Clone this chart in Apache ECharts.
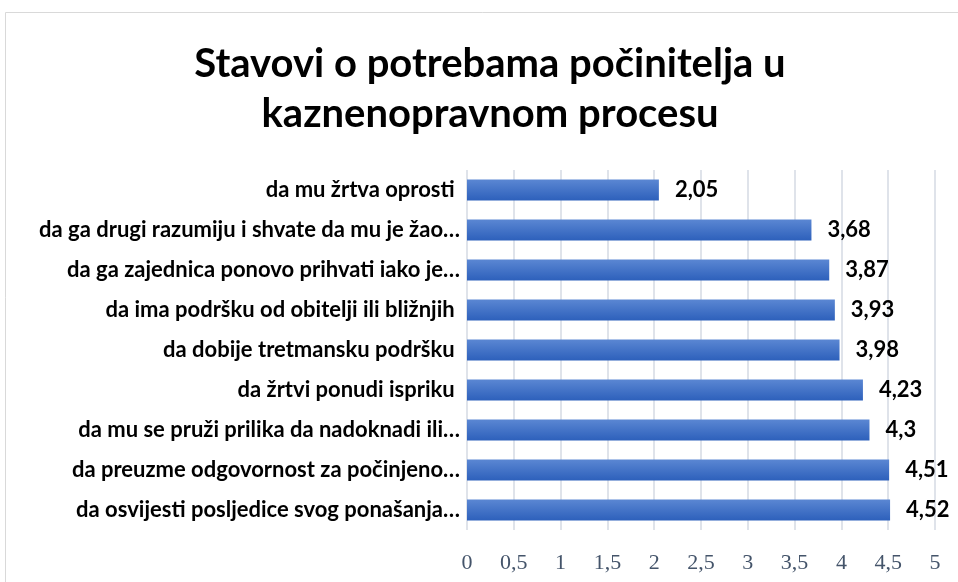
<!DOCTYPE html>
<html>
<head>
<meta charset="utf-8">
<script src="https://cdn.jsdelivr.net/npm/echarts@6/dist/echarts.min.js"></script>
<style>
html, body { margin: 0; padding: 0; background: #fff; }
#main { width: 958px; height: 582px; }
</style>
</head>
<body>
<div id="main"></div>
<script>
// kategorije odozgo prema dolje
var categories = [
	'da mu žrtva oprosti ',
	'da ga drugi razumiju i shvate da mu je žao…',
	'da ga zajednica ponovo prihvati iako je…',
	'da ima podršku od obitelji ili bližnjih ',
	'da dobije tretmansku podršku ',
	'da žrtvi ponudi ispriku ',
	'da mu se pruži prilika da nadoknadi ili…',
	'da preuzme odgovornost za počinjeno…',
	'da osvijesti posljedice svog ponašanja…'
];
var values = [2.05, 3.68, 3.87, 3.93, 3.98, 4.23, 4.3, 4.51, 4.52];
var tickLabels = ['0', '0,5', '1', '1,5', '2', '2,5', '3', '3,5', '4', '4,5', '5'];

var myChart = echarts.init(document.getElementById('main'));

var option = {
	backgroundColor: '#fff',
	animation: false,
	title: {
		text: 'Stavovi o potrebama počinitelja u\nkaznenopravnom procesu',
		left: 485,
		top: 34,
		textAlign: 'center',
		textStyle: {
			fontFamily: 'Lato',
			fontWeight: 'bold',
			fontSize: 40,
			lineHeight: 50,
			color: '#000'
		}
	},
	graphic: [
		{
			type: 'rect',
			shape: { x: 5.5, y: 12.5, width: 1000, height: 1000 },
			style: { fill: 'none', stroke: '#d9d9d9', lineWidth: 1 },
			silent: true
		}
	],
	grid: {
		left: 467,
		right: 23,
		top: 170,
		bottom: 52,
		containLabel: false
	},
	xAxis: {
		type: 'value',
		min: 0,
		max: 5,
		interval: 0.5,
		axisLine: { show: false },
		axisTick: { show: false },
		splitLine: { show: true, lineStyle: { color: '#dfe3ea', width: 2 } },
		axisLabel: {
			margin: 22,
			fontFamily: 'Liberation Serif',
			fontSize: 22,
			color: '#44546a',
			formatter: function (v) {
				return tickLabels[Math.round(v * 2)];
			}
		}
	},
	yAxis: {
		type: 'category',
		inverse: true,
		data: categories,
		axisLine: { show: false },
		axisTick: { show: false },
		axisLabel: {
			margin: 7,
			fontFamily: 'Lato',
			fontWeight: 'bold',
			fontSize: 22,
			color: '#000'
		}
	},
	series: [
		{
			name: 'Stavovi',
			type: 'bar',
			data: values,
			barCategoryGap: '47%',
			itemStyle: {
				color: new echarts.graphic.LinearGradient(0, 0, 0, 1, [
					{ offset: 0, color: '#5b87d3' },
					{ offset: 1, color: '#2d60bb' }
				])
			},
			label: {
				show: true,
				position: 'right',
				distance: 16,
				fontFamily: 'Lato',
				fontWeight: 'bold',
				fontSize: 22,
				color: '#000',
				formatter: function (p) {
					return String(p.value).replace('.', ',');
				}
			}
		}
	]
};

myChart.setOption(option);
</script>
</body>
</html>
